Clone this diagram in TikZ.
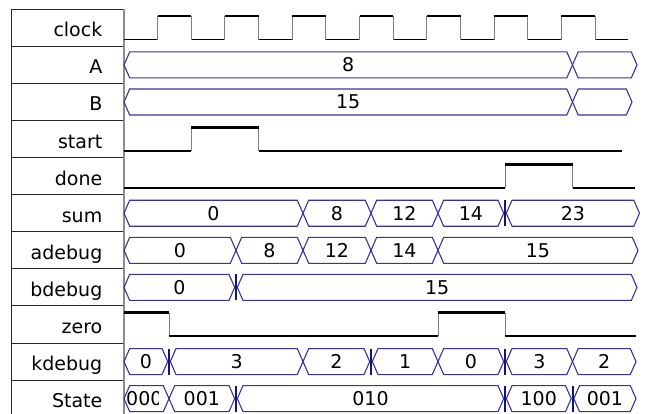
\documentclass[tikz,border=0pt]{standalone}
\usepackage{fontspec}
\setmainfont{DejaVu Sans}
\definecolor{busblue}{RGB}{52,52,156}
\definecolor{glitchblue}{RGB}{20,20,120}

% one bus segment: #1 centre y, #2 left tip, #3 right tip, #4 node name, #5 value
\newcommand\busseg[5]{%
  \draw[bus] (#2,#1) -- ({#2+\bs},{#1-13}) -- ({#3-\bs},{#1-13}) -- (#3,#1)
    -- ({#3-\bs},{#1+13}) -- ({#2+\bs},{#1+13}) -- cycle;
  \node[val] (#4) at ({(#2+#3)/2},{#1+7}) {#5};}
% short glitch marker between two bus values
\newcommand\glitchmark[2]{\draw[glitch] (#2,{#1-13}) -- (#2,{#1+13});}

\begin{document}
\begin{tikzpicture}[x=1pt,y=-1pt,
  grid/.style={draw=black!85,line width=0.9pt},
  divider/.style={draw=black!45,line width=1.8pt},
  hiline/.style={draw=black,line width=2.8pt},
  loline/.style={draw=black,line width=1.6pt},
  edgeline/.style={draw=black!50,line width=1pt},
  bus/.style={draw=busblue,line width=1.1pt,line join=miter},
  glitch/.style={draw=glitchblue,line width=2pt},
  lbl/.style={anchor=base east,inner sep=0pt,font=\fontsize{19}{22}\selectfont},
  val/.style={anchor=base,inner sep=0pt,font=\fontsize{19}{22}\selectfont}]
\useasboundingbox (0,0) rectangle (646,414);
\def\bs{5.7}

% ---- name column ----
\foreach \i in {0,...,10}
  \draw[grid] (11,{9.3+37.08*\i}) -- (124,{9.3+37.08*\i});
\draw[grid] (11,9.3) -- (11,414);
\draw[divider] (124,9.3) -- (124,414);
\foreach \t [count=\i from 0] in {clock,A,B,start,done,sum,adebug,bdebug,zero,kdebug,State}
  \node[lbl] (name-\t) at (102.5,{9.3+37.08*(\i+0.5)+9}) {\t};

% ---- clock ----
\def\c{27.84}
\foreach \k in {0,2,...,14}
  \draw[loline] ({124+33.65*\k},{\c+11.8}) -- ({min(124+33.65*(\k+1),628)},{\c+11.8});
\foreach \k in {1,3,...,13}
  \draw[edgeline] ({124+33.65*\k},{\c+11.8}) -- ({124+33.65*\k},{\c-11.8})
    ({124+33.65*(\k+1)},{\c-11.8}) -- ({124+33.65*(\k+1)},{\c+11.8});
\foreach \k in {1,3,...,13}
  \draw[hiline] ({124+33.65*\k},{\c-11.8}) -- ({124+33.65*(\k+1)},{\c-11.8});

% ---- start ----
\def\c{139.08}
\draw[edgeline] (191.3,{\c+11.8}) -- (191.3,{\c-11.8}) (258.6,{\c-11.8}) -- (258.6,{\c+11.8});
\draw[loline] (124,{\c+11.8}) -- (191.3,{\c+11.8}) (258.6,{\c+11.8}) -- (622,{\c+11.8});
\draw[hiline] (191.3,{\c-11.8}) -- (258.6,{\c-11.8});

% ---- done ----
\def\c{176.16}
\draw[edgeline] (505.2,{\c+11.8}) -- (505.2,{\c-11.8}) (572.5,{\c-11.8}) -- (572.5,{\c+11.8});
\draw[loline] (124,{\c+11.8}) -- (505.2,{\c+11.8}) (572.5,{\c+11.8}) -- (635,{\c+11.8});
\draw[hiline] (505.2,{\c-11.8}) -- (572.5,{\c-11.8});

% ---- zero ----
\def\c{324.48}
\draw[edgeline] (169,{\c-11.8}) -- (169,{\c+11.8}) (438,{\c+11.8}) -- (438,{\c-11.8})
  (505.2,{\c-11.8}) -- (505.2,{\c+11.8});
\draw[loline] (169,{\c+11.8}) -- (438,{\c+11.8}) (505.2,{\c+11.8}) -- (636,{\c+11.8});
\draw[hiline] (124,{\c-11.8}) -- (169,{\c-11.8}) (438,{\c-11.8}) -- (505.2,{\c-11.8});

% ---- buses ----
\def\c{64.92}
\busseg{\c}{124}{572.5}{A1}{8}
\busseg{\c}{572.5}{637}{A2}{}
\def\c{102}
\busseg{\c}{124}{572.5}{B1}{15}
\busseg{\c}{572.5}{632}{B2}{}

\def\c{213.24}
\foreach \a/\b/\t [count=\n] in {124/303/0,303/371/8,371/438/12,438/503.7/14,506.3/639.5/23}
  {\busseg{\c}{\a}{\b}{sum\n}{\t}}
\glitchmark{\c}{505}

\def\c{250.32}
\foreach \a/\b/\t [count=\n] in {124/236/0,236/303/8,303/371/12,371/438/14,438/638/15}
  {\busseg{\c}{\a}{\b}{adebug\n}{\t}}

\def\c{287.4}
\foreach \a/\b/\t [count=\n] in {124/234.7/0,237.3/637/15}
  {\busseg{\c}{\a}{\b}{bdebug\n}{\t}}
\glitchmark{\c}{236}

\def\c{361.56}
\foreach \a/\b/\t [count=\n] in {124/167.7/0,170.3/303/3,303/369.7/2,372.3/438/1,
    438/503.7/0,506.3/572.5/3,572.5/636/2}
  {\busseg{\c}{\a}{\b}{kdebug\n}{\t}}
\glitchmark{\c}{169}
\glitchmark{\c}{371}
\glitchmark{\c}{505}

\def\c{398.64}
\busseg{\c}{124}{169}{state1}{}
\begin{scope}
  \clip (124,{\c-13}) rectangle (158.5,{\c+13});
  \node[val,anchor=base west] (state0) at (126,{\c+7}) {000};
\end{scope}
\foreach \a/\b/\t [count=\n from 2] in {169/234.7/001,237.3/503.7/010,506.3/571.2/100,573.8/636/001}
  {\busseg{\c}{\a}{\b}{state\n}{\t}}
\glitchmark{\c}{236}
\glitchmark{\c}{505}
\glitchmark{\c}{572.5}
\end{tikzpicture}
\end{document}
